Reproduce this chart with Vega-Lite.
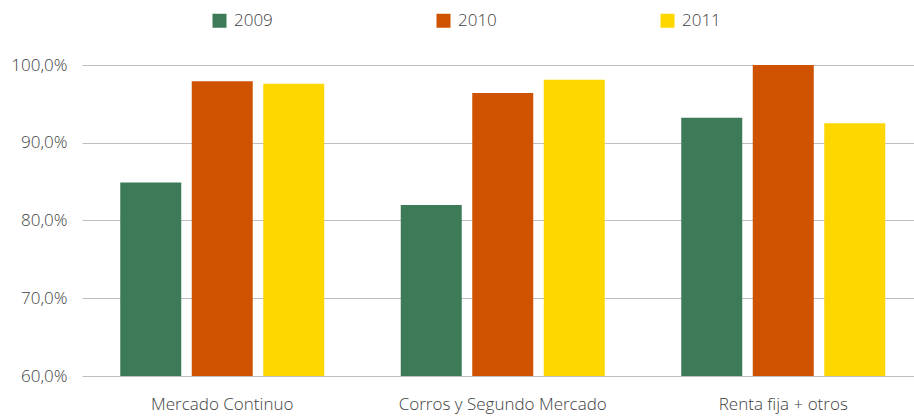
{
  "$schema": "https://vega.github.io/schema/vega-lite/v6.json",
  "autosize": "none",
  "padding": {"left": 82, "top": 65, "right": 0, "bottom": 40},
  "width": 832,
  "height": 311,
  "background": "white",
  "config": {
    "locale": {"number": {"decimal": ",", "thousands": ".", "grouping": [3], "currency": ["", " €"]}},
    "view": {"stroke": null},
    "font": "Open Sans"
  },
  "data": {
    "values": [
      {"mercado": "Mercado Continuo", "año": "2009", "valor": 0.849},
      {"mercado": "Mercado Continuo", "año": "2010", "valor": 0.979},
      {"mercado": "Mercado Continuo", "año": "2011", "valor": 0.976},
      {"mercado": "Corros y Segundo Mercado", "año": "2009", "valor": 0.820},
      {"mercado": "Corros y Segundo Mercado", "año": "2010", "valor": 0.964},
      {"mercado": "Corros y Segundo Mercado", "año": "2011", "valor": 0.981},
      {"mercado": "Renta fija + otros", "año": "2009", "valor": 0.932},
      {"mercado": "Renta fija + otros", "año": "2010", "valor": 1.0},
      {"mercado": "Renta fija + otros", "año": "2011", "valor": 0.925}
    ]
  },
  "mark": {"type": "bar", "clip": true},
  "encoding": {
    "x": {
      "field": "mercado", "type": "nominal", "sort": null,
      "scale": {"paddingInner": 0, "paddingOuter": 0, "range": [0, 841.5]},
      "axis": {"title": null, "domain": false, "ticks": false, "labelAngle": 0, "labelFontSize": 17, "labelColor": "#404040", "labelPadding": 20, "labelFontWeight": 300, "labelLimit": 300}
    },
    "xOffset": {
      "field": "año", "type": "nominal",
      "scale": {"paddingInner": 0.147, "paddingOuter": 0.535}
    },
    "y": {
      "field": "valor", "type": "quantitative",
      "scale": {"domain": [0.6, 1.0], "zero": false, "nice": false},
      "axis": {"title": null, "format": ".1%", "values": [0.6, 0.7, 0.8, 0.9, 1.0], "domain": false, "ticks": false, "grid": true, "gridColor": "#bfbfbf", "gridWidth": 1, "labelFontSize": 17, "labelColor": "#404040", "labelPadding": 15, "labelFontWeight": 300}
    },
    "color": {
      "field": "año", "type": "nominal",
      "scale": {"domain": ["2009", "2010", "2011"], "range": ["#3d7b58", "#cf5200", "#ffd700"]},
      "legend": {
        "title": null, "orient": "none", "legendX": 129, "legendY": -53,
        "direction": "horizontal", "columns": 3, "columnPadding": 162,
        "symbolType": "square", "symbolSize": 196, "symbolStrokeWidth": 0, "symbolOpacity": 1,
        "labelFontSize": 17, "labelColor": "#404040", "labelOffset": 6, "labelFontWeight": 300
      }
    }
  }
}
